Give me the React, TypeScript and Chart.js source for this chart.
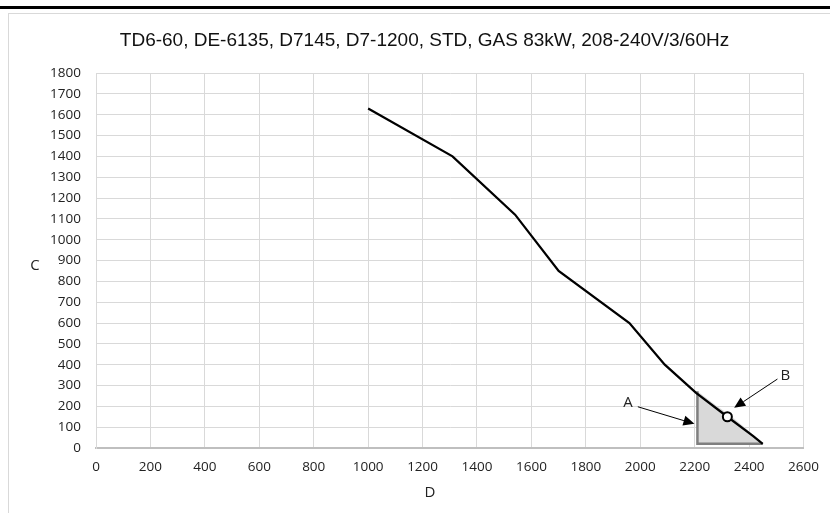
import React, { useEffect, useRef } from "react";
import { Chart, registerables } from "chart.js";

Chart.register(...registerables);

const TITLE = "TD6-60, DE-6135, D7145, D7-1200, STD, GAS 83kW, 208-240V/3/60Hz";
const X_TITLE = "D";
const Y_TITLE = "C";

const X_MIN = 0;
const X_MAX = 2600;
const X_STEP = 200;
const Y_MIN = 0;
const Y_MAX = 1800;
const Y_STEP = 100;

// main curve
const curveX = [1000, 1310, 1540, 1700, 1960, 2090, 2205, 2320, 2415, 2450];
const curveY = [1630, 1400, 1120, 850, 600, 400, 265, 150, 57, 20];

// shaded operating region (top edge)
const regionX = [2210, 2280, 2330, 2400, 2450];
const regionY = [272, 203, 157, 80, 20];
const REGION_BASE = 20;

// region outline (left + bottom)
const outlineX = [2210, 2210, 2450];
const outlineY = [272, 20, 20];

// duty point marker
const markerX = [2320];
const markerY = [150];

// annotations (data coordinates)
const noteText = ["A", "B"];
const noteTextX = [1955, 2533];
const noteTextY = [215, 345];
const noteFromX = [1991, 2504];
const noteFromY = [198, 331];
const noteToX = [2199, 2345];
const noteToY = [116, 193];

const zip = (xs: number[], ys: number[]) => xs.map((x, i) => ({ x, y: ys[i] }));

const TICK_FONT = { family: "'Open Sans', sans-serif", size: 13.5 };
const plain = (v: any) => String(v);

const decorPlugin = {
  id: "decor",
  afterDatasetsDraw(chart: any) {
    const ctx = chart.ctx;
    const xs = chart.scales.x;
    const ys = chart.scales.y;
    ctx.save();
    for (let i = 0; i < noteText.length; i++) {
      const x1 = xs.getPixelForValue(noteFromX[i]);
      const y1 = ys.getPixelForValue(noteFromY[i]);
      const x2 = xs.getPixelForValue(noteToX[i]);
      const y2 = ys.getPixelForValue(noteToY[i]);
      const ang = Math.atan2(y2 - y1, x2 - x1);
      const headLen = 11;
      const headW = 5;
      const bx = x2 - headLen * Math.cos(ang);
      const by = y2 - headLen * Math.sin(ang);
      ctx.strokeStyle = "#000";
      ctx.lineWidth = 1;
      ctx.beginPath();
      ctx.moveTo(x1, y1);
      ctx.lineTo(bx, by);
      ctx.stroke();
      ctx.fillStyle = "#000";
      ctx.beginPath();
      ctx.moveTo(x2, y2);
      ctx.lineTo(bx + headW * Math.sin(ang), by - headW * Math.cos(ang));
      ctx.lineTo(bx - headW * Math.sin(ang), by + headW * Math.cos(ang));
      ctx.closePath();
      ctx.fill();
      ctx.font = "15px 'Open Sans', sans-serif";
      ctx.textAlign = "center";
      ctx.textBaseline = "middle";
      ctx.fillStyle = "#222";
      ctx.fillText(noteText[i], xs.getPixelForValue(noteTextX[i]), ys.getPixelForValue(noteTextY[i]));
    }
    ctx.restore();
  },
  afterDraw(chart: any) {
    const ctx = chart.ctx;
    ctx.save();
    ctx.fillStyle = "#111";
    ctx.textAlign = "center";
    ctx.textBaseline = "middle";
    ctx.font = "19px 'Liberation Sans', Arial, sans-serif";
    ctx.fillText(TITLE, 424.5, 41);
    ctx.fillStyle = "#222";
    ctx.font = "15px 'Open Sans', sans-serif";
    ctx.fillText(Y_TITLE, 35, 266);
    ctx.fillText(X_TITLE, 430, 493);
    ctx.restore();
  },
};

export default function App() {
  const ref = useRef<HTMLCanvasElement | null>(null);
  useEffect(() => {
    if (!ref.current) return;
    const chart = new Chart(ref.current, {
      type: "scatter",
      data: {
        datasets: [
          {
            label: "marker",
            data: zip(markerX, markerY),
            showLine: false,
            pointRadius: 4.5,
            pointBorderWidth: 2,
            pointBackgroundColor: "#fff",
            pointBorderColor: "#000",
            order: 0,
          },
          {
            label: "curve",
            data: zip(curveX, curveY),
            showLine: true,
            borderColor: "#000",
            borderWidth: 2.25,
            pointRadius: 0,
            tension: 0,
            order: 1,
          },
          {
            label: "outline",
            data: zip(outlineX, outlineY),
            showLine: true,
            borderColor: "#7f7f7f",
            borderWidth: 2.5,
            pointRadius: 0,
            tension: 0,
            order: 2,
          },
          {
            label: "region",
            data: zip(regionX, regionY),
            showLine: true,
            borderWidth: 0,
            borderColor: "rgba(0,0,0,0)",
            backgroundColor: "#d9d9d9",
            fill: { value: REGION_BASE },
            pointRadius: 0,
            tension: 0,
            order: 3,
          },
        ],
      },
      options: {
        responsive: false,
        animation: false,
        layout: { padding: { left: 0, right: 24, top: 73, bottom: 0 } },
        plugins: {
          legend: { display: false },
          title: { display: false },
          tooltip: { enabled: false },
        },
        scales: {
          x: {
            type: "linear",
            min: X_MIN,
            max: X_MAX,
            afterFit: (s: any) => {
              s.height = 65;
            },
            ticks: { stepSize: X_STEP, color: "#222", font: TICK_FONT, padding: 11, maxRotation: 0, callback: plain },
            grid: { color: "#d9d9d9", lineWidth: 1, drawTicks: false },
            border: { color: "#bfbfbf", width: 2 },
          },
          y: {
            type: "linear",
            min: Y_MIN,
            max: Y_MAX,
            afterFit: (s: any) => {
              s.width = 96;
            },
            ticks: { stepSize: Y_STEP, color: "#222", font: TICK_FONT, padding: 15, callback: plain },
            grid: { color: "#d9d9d9", lineWidth: 1, drawTicks: false },
            border: { color: "#d9d9d9", width: 1 },
          },
        },
      } as any,
      plugins: [decorPlugin],
    });
    return () => chart.destroy();
  }, []);

  return (
    <div
      style={{
        position: "fixed",
        left: 0,
        top: 0,
        width: 830,
        height: 513,
        background: "#fff",
        overflow: "hidden",
      }}
    >
      <div style={{ position: "absolute", left: 0, top: 6, width: 830, height: 3, background: "#000" }} />
      <div
        style={{
          position: "absolute",
          left: 8,
          top: 13,
          width: 840,
          height: 520,
          border: "1px solid #d9d9d9",
        }}
      />
      <canvas
        ref={ref}
        width={830}
        height={513}
        style={{ position: "absolute", left: 0, top: 0, width: 830, height: 513 }}
      />
    </div>
  );
}
